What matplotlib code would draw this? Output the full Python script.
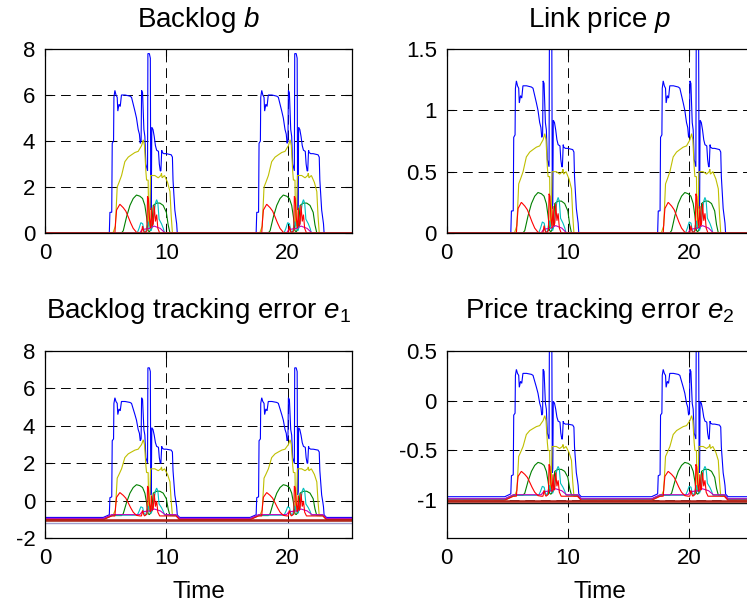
import numpy as np
import matplotlib
matplotlib.use("Agg")
import matplotlib.pyplot as plt

plt.rcParams['font.family'] = ['Liberation Sans', 'DejaVu Sans']
plt.rcParams['mathtext.fontset'] = 'custom'
plt.rcParams['mathtext.rm'] = 'Liberation Sans'
plt.rcParams['mathtext.it'] = 'Liberation Sans:italic'

# ---------------- data ----------------
t_end = 25.3
burst_shift = 12.1          # second congestion episode repeats the first one later

# backlog b of each flow during the first congestion episode (time, value)
blue_t = [5.30, 5.35, 5.50, 5.54, 5.65, 5.68, 5.76, 5.85, 5.95, 6.00, 6.10, 6.20, 6.30,
          6.60, 7.00, 7.13, 7.27, 7.41, 7.54, 7.68, 7.78, 7.85, 7.92, 7.96, 8.04, 8.15,
          8.23, 8.31, 8.45, 8.48, 8.60, 8.68, 8.72, 8.76, 8.80, 8.90, 9.00, 9.10, 9.20,
          9.35, 9.42, 9.50, 9.55, 9.62, 9.66, 9.80, 10.00, 10.40, 10.50, 10.55, 10.70,
          10.85, 10.90]
blue_b = [0.0, 0.9, 0.9, 3.9, 4.0, 5.9, 6.2, 6.0, 5.9, 5.3, 5.6, 5.5, 6.0,
          6.0, 5.95, 5.9, 5.6, 5.3, 5.0, 4.5, 4.3, 3.9, 4.0, 6.2, 6.1, 4.5,
          4.2, 3.0, 2.7, 7.8, 7.8, 7.6, 1.0, 1.2, 4.6, 4.5, 4.2, 3.8, 3.6,
          3.55, 3.0, 2.7, 2.7, 3.6, 3.5, 3.45, 3.45, 3.4, 3.3, 2.3, 1.0,
          0.4, 0.0]

yellow_t = [5.60, 5.80, 5.95, 6.10, 6.31, 6.58, 6.86, 7.13, 7.41, 7.68, 7.96, 8.10, 8.20,
            8.31, 8.37, 8.50, 8.55, 8.62, 8.70, 8.86, 9.05, 9.33, 9.55, 9.60, 9.65, 9.85,
            10.10, 10.30, 10.40, 10.50]
yellow_b = [0.0, 0.3, 2.0, 2.2, 2.5, 3.1, 3.3, 3.4, 3.5, 3.55, 3.8, 4.05, 3.8,
            2.7, 2.3, 2.3, 0.3, 0.3, 2.5, 2.5, 2.5, 2.4, 2.5, 2.6, 2.4, 2.5,
            2.2, 1.8, 0.75, 0.0]

green_t = [6.30, 6.45, 6.72, 7.00, 7.27, 7.54, 7.82, 8.04, 8.23, 8.37, 8.50, 8.60, 8.78,
           8.92, 9.19, 9.47, 9.74, 10.00, 10.15, 10.30]
green_b = [0.0, 0.1, 0.7, 1.2, 1.5, 1.65, 1.6, 1.5, 1.2, 0.7, 0.1, 0.05, 0.2,
           1.2, 1.3, 1.3, 1.2, 0.9, 0.35, 0.0]

red_t = [5.76, 5.82, 5.90, 6.17, 6.45, 6.66, 6.86, 7.05, 7.27, 7.54, 7.82, 7.95, 8.04,
         8.12, 8.20, 8.40, 8.45, 8.52, 8.60, 8.70, 8.78, 8.85, 8.92, 9.00, 9.10, 9.20,
         9.30, 9.45]
red_b = [0.0, 0.5, 1.0, 1.25, 1.1, 0.95, 0.7, 0.45, 0.2, 0.03, 0.0, 0.0, 0.3,
         0.1, 0.0, 0.1, 1.6, 1.5, 0.7, 0.2, 1.1, 0.3, 0.4, 1.2, 0.5, 0.8,
         0.2, 0.0]

cyan_t = [7.60, 7.75, 7.90, 8.05, 8.15, 8.30, 8.40, 8.50, 8.60, 8.75, 8.90, 9.00, 9.10,
          9.20, 9.30, 9.40, 9.50, 9.60, 9.75, 9.85]
cyan_b = [0.0, 0.2, 0.45, 0.4, 0.1, 0.0, 0.3, 0.5, 0.2, 0.1, 0.4, 0.9, 1.3,
          1.45, 1.3, 0.6, 0.5, 0.4, 0.2, 0.0]

magenta_t = [7.80, 8.00, 8.60, 9.00, 9.50, 9.90]
magenta_b = [0.0, 0.15, 0.2, 0.3, 0.2, 0.0]

idle_t = []
idle_b = []

flow_names = ['blue', 'yellow', 'green', 'cyan', 'magenta', 'red', 'lavender', 'dark', 'darkred']
flow_colors = [(0, 0, 1), (0.75, 0.75, 0), (0, 0.5, 0), (0, 0.75, 0.75), (0.75, 0, 0.75),
               (1, 0, 0), (0.62, 0.62, 0.8), (0.1, 0.1, 0.1), (0.7, 0.15, 0.1)]
flow_widths = [0.8, 0.8, 0.8, 0.8, 0.8, 0.8, 1.0, 1.0, 1.8]
flow_knots_t = [blue_t, yellow_t, green_t, cyan_t, magenta_t, red_t, idle_t, idle_t, idle_t]
flow_knots_b = [blue_b, yellow_b, green_b, cyan_b, magenta_b, red_b, idle_b, idle_b, idle_b]
b_initial = [0.17, 0.0, 0.0, 0.0, 0.0, 0.0, 0.0, 0.0, 0.0]
p_initial = [0.24, 0.0, 0.0, 0.0, 0.0, 0.16, 0.0, 0.0, 0.0]
e1_idle = [-0.9, -1.0, -1.0, -0.98, -0.95, -1.02, -1.22, -1.05, -1.05]
e2_idle = [-0.965, -1.0, -0.99, -0.99, -0.985, -1.0, -1.01, -1.03, -1.01]
follows_ref = [True, True, True, True, True, True, False, False, False]

price_gain = 0.2
ref_t = [4.8, 5.5, 10.8, 11.1]
e1_ref_shift = [0.0, 0.2, 0.2, 0.0]
e2_ref_shift = [0.0, 0.04, 0.04, 0.0]

# ---------------- build series ----------------
ref_full_t = [0.0] + ref_t + [x + burst_shift for x in ref_t] + [t_end]
ref1_full = [0.0] + e1_ref_shift + e1_ref_shift + [0.0]
ref2_full = [0.0] + e2_ref_shift + e2_ref_shift + [0.0]


def series(i):
    kt, kb = flow_knots_t[i], flow_knots_b[i]
    t = [0.0, 0.04] + list(kt) + [x + burst_shift for x in kt] + [t_end]
    b = [b_initial[i], 0.0] + list(kb) + list(kb) + [0.0]
    grid = np.array(sorted(set(t) | set(ref_full_t)))
    bg = np.interp(grid, t, b)
    on = 1.0 if follows_ref[i] else 0.0
    r1 = np.interp(grid, ref_full_t, ref1_full) * on
    r2 = np.interp(grid, ref_full_t, ref2_full) * on
    p = price_gain * bg
    p[0] = p_initial[i]
    e1 = bg + e1_idle[i] + r1
    e2 = p + e2_idle[i] + r2
    return grid, bg, p, e1, e2


# ---------------- figure ----------------
W, H = 747, 605
fig = plt.figure(figsize=(W / 100, H / 100), dpi=100)


def axpos(left, top, width, height):
    return [left / W, (H - top - height) / H, width / W, height / H]


ax_b = fig.add_axes(axpos(45, 49, 307, 184))
ax_p = fig.add_axes(axpos(446.5, 49, 307, 184))
ax_e1 = fig.add_axes(axpos(45, 351, 307, 187))
ax_e2 = fig.add_axes(axpos(446.5, 351, 307, 187))

for i, name in enumerate(flow_names):
    t, b, p, e1, e2 = series(i)
    kw = dict(color=flow_colors[i], lw=flow_widths[i], solid_joinstyle='miter')
    ax_b.plot(t, b, **kw)
    ax_p.plot(t, p, **kw)
    ax_e1.plot(t, e1, **kw)
    ax_e2.plot(t, e2, **kw)

setup = [
    (ax_b, 'Backlog $b$', (0, 8), [0, 2, 4, 6, 8], ['0', '2', '4', '6', '8'], 15.5),
    (ax_p, 'Link price $p$', (0, 1.5), [0, 0.5, 1, 1.5], ['0', '0.5', '1', '1.5'], 15.5),
    (ax_e1, 'Backlog tracking error $e_1$', (-2, 8), [-2, 0, 2, 4, 6, 8],
     ['-2', '0', '2', '4', '6', '8'], 24),
    (ax_e2, 'Price tracking error $e_2$', (-1.38, 0.5), [-1, -0.5, 0, 0.5],
     ['-1', '-0.5', '0', '0.5'], 24),
]
for ax, title, ylim, yt, ytl, pad in setup:
    ax.set_xlim(0, t_end)
    ax.set_ylim(*ylim)
    ax.set_xticks([0, 10, 20])
    ax.set_xticklabels(['0', '10', '20'])
    ax.set_yticks(yt)
    ax.set_yticklabels(ytl)
    ax.grid(True, color='k', linestyle=(0, (10, 6)), linewidth=0.7)
    ax.tick_params(direction='in', length=5, width=0.8, top=True, right=True,
                   labelsize=16, colors='k')
    ax.tick_params(axis='x', pad=7)
    ax.tick_params(axis='y', pad=7)
    for s in ax.spines.values():
        s.set_linewidth(0.9)
        s.set_color('k')
    ax.set_title(title, fontsize=20, pad=pad)

for ax in (ax_e1, ax_e2):
    ax.set_xlabel('Time', fontsize=17.5, labelpad=9)

fig.savefig('out.png', dpi=100)
